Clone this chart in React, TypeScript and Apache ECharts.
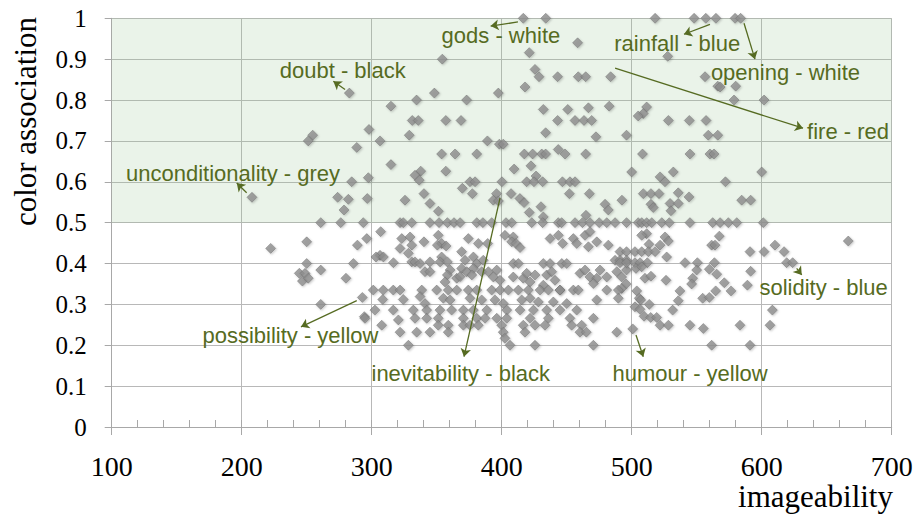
import React, { useEffect, useRef } from "react";
import * as echarts from "echarts";

// ---- data (imageability, color association) ----
const topRowX = [416.6, 433.9, 518, 548, 557, 564.8, 579.5, 583.8];

const upperPoints: [number, number][] = [
  [458.4, 0.94], [421.2, 0.916], [354.3, 0.9], [527.7, 0.907], [425.6, 0.875],
  [428.7, 0.857], [443, 0.857], [458.9, 0.857], [464.6, 0.857], [483.8, 0.857], [556.4, 0.857],
  [417.9, 0.832], [566.2, 0.834], [568, 0.832], [580, 0.834],
  [282.8, 0.817], [348.2, 0.817], [397.4, 0.817],
  [334.5, 0.8], [373, 0.8], [578.7, 0.8], [601.8, 0.8],
  [314.8, 0.785], [432, 0.777], [450.8, 0.777], [466.7, 0.781], [482.7, 0.785],
  [511.5, 0.783], [508.9, 0.767], [505, 0.761],
  [331.2, 0.75], [335.8, 0.75], [357, 0.75], [368.7, 0.75], [443, 0.75], [456.4, 0.75],
  [463.3, 0.75], [469.2, 0.75], [528.2, 0.75], [544.3, 0.75], [557.2, 0.75],
  [297.9, 0.728], [328.9, 0.714], [433.8, 0.72], [472.5, 0.71], [496, 0.714],
  [254.6, 0.714], [251.2, 0.7], [558.9, 0.714], [566.2, 0.714],
  [306.4, 0.7], [389, 0.7], [398.2, 0.692], [401.2, 0.692], [288.5, 0.684],
  [443.5, 0.679], [448.7, 0.668], [353.8, 0.668], [364.1, 0.668], [380.8, 0.668],
  [417.4, 0.668], [423.8, 0.668], [430.8, 0.668], [433.8, 0.668], [464.6, 0.668],
  [508.3, 0.668], [544.8, 0.668], [560.2, 0.668], [563.3, 0.668],
  [314.8, 0.642], [422.5, 0.639], [409.5, 0.631], [357, 0.626], [337.7, 0.626],
  [500, 0.624], [532, 0.624], [600, 0.624],
  [333.3, 0.616], [336.6, 0.604], [297.4, 0.61], [426.4, 0.614], [521.8, 0.612],
  [375.6, 0.6], [379.5, 0.6], [419.2, 0.6], [424.8, 0.6], [431.5, 0.6], [400.2, 0.6],
  [446.7, 0.6], [452.5, 0.6], [456.4, 0.6], [284.6, 0.6], [525.6, 0.6], [572.1, 0.6],
  [369.7, 0.584], [340.2, 0.571], [377.4, 0.571], [407.2, 0.571], [452, 0.571], [467.4, 0.571],
  [396, 0.571], [508.9, 0.571], [514.8, 0.571], [521, 0.571], [535.8, 0.573], [544.1, 0.563],
  [393.5, 0.555], [397.5, 0.553], [296.6, 0.559], [325.6, 0.555], [414, 0.559], [417.2, 0.549],
  [207.9, 0.562], [273.8, 0.562], [282, 0.557], [584.6, 0.555], [591.5, 0.555],
  [344.8, 0.547], [492.5, 0.555], [479.5, 0.545], [482, 0.531], [430.2, 0.539],
  [514.8, 0.545], [516.6, 0.537], [529.5, 0.547], [535.8, 0.547], [530.2, 0.529],
  [351.3, 0.528], [421.2, 0.525], [432, 0.514], [464.8, 0.518], [278.7, 0.531],
];

const halfRowX = [
  260.8, 276.2, 293.5, 321.8, 324.3, 330.8, 344.8, 351.8, 358.2, 363.3, 368, 380.8,
  385.5, 392.3, 403.3, 407.7, 423.1, 431.5, 443.5, 446.1, 456.4, 462.1, 467.9, 475,
  480.8, 487.2, 496, 505, 507.7, 511.5, 515.4, 523.1, 528.9, 544.8, 562.3, 568,
  574.3, 580.8, 601.2,
];

const lowerPoints: [number, number][] = [
  [306.9, 0.478], [296.2, 0.461], [323.1, 0.461], [329.5, 0.465], [330.8, 0.445], [321.8, 0.437],
  [340.2, 0.453], [351.2, 0.469], [353.8, 0.449], [350.5, 0.445], [357.2, 0.443],
  [374.3, 0.461], [382, 0.449], [389.2, 0.449], [402.5, 0.469], [408.9, 0.465], [407.7, 0.453],
  [411, 0.449], [414.1, 0.439], [437.2, 0.461], [443.6, 0.469], [446.9, 0.449], [455.1, 0.461],
  [457.7, 0.449], [464.1, 0.469], [467.9, 0.478], [473.1, 0.453], [482, 0.445], [466.7, 0.441],
  [222.3, 0.437], [250, 0.453], [289, 0.445], [666.6, 0.455],
  [567.4, 0.467], [525.6, 0.465], [528.2, 0.455], [521.8, 0.445], [513.3, 0.447], [511.5, 0.473],
  [507.7, 0.469], [561.5, 0.445], [564.1, 0.445], [610.2, 0.445],
  [591, 0.429], [601.8, 0.429], [617.2, 0.429], [491, 0.429], [496, 0.429], [502.5, 0.429],
  [507.7, 0.429], [512.8, 0.429], [518, 0.429], [526.9, 0.416],
  [306.4, 0.42], [303.3, 0.416], [309, 0.416], [316.7, 0.402], [250, 0.4], [285.9, 0.4],
  [328.2, 0.425], [330.8, 0.404], [333.3, 0.404], [337.2, 0.4], [341, 0.38], [344.8, 0.38],
  [344.8, 0.404], [353.8, 0.416], [352.6, 0.404], [358.2, 0.404], [360.3, 0.384], [358.2, 0.372],
  [356.4, 0.355], [369.2, 0.429], [371.8, 0.408], [369.2, 0.388], [365.4, 0.364], [368, 0.368],
  [373.1, 0.38], [378.2, 0.416], [380.8, 0.4], [385.8, 0.408], [384.6, 0.38], [378.2, 0.388],
  [377, 0.372], [389.7, 0.38], [396.2, 0.384], [393.6, 0.367], [398.7, 0.359],
  [408.9, 0.4], [412.8, 0.4], [408.9, 0.367], [416.6, 0.364], [419.2, 0.376], [421.8, 0.355],
  [425.6, 0.372], [432, 0.4], [437.2, 0.4], [446.2, 0.4], [450, 0.4], [434.6, 0.372],
  [438.5, 0.38], [432, 0.347], [444.8, 0.335], [441, 0.359],
  [460.2, 0.376], [464.1, 0.384], [467.9, 0.367], [473.1, 0.364], [475.6, 0.384], [480.8, 0.367],
  [470.5, 0.351], [487.2, 0.408], [491, 0.408], [496, 0.408], [488.5, 0.38], [492.3, 0.367],
  [496, 0.384],
  [491, 0.402], [496, 0.402], [502.5, 0.402], [506.4, 0.402], [512, 0.402], [541, 0.402],
  [550.5, 0.402], [563.6, 0.402], [619.2, 0.402], [623.8, 0.402],
  [550, 0.384], [559.7, 0.386], [565.4, 0.374], [503.3, 0.388], [507.7, 0.392], [591.5, 0.381],
  [260.8, 0.384], [244.3, 0.376], [248.7, 0.376], [246.7, 0.357], [251.2, 0.364], [280.2, 0.364],
  [510.2, 0.364], [514.8, 0.369], [526.4, 0.359], [546.9, 0.364], [546.1, 0.35],
  [571.2, 0.353], [576.4, 0.333], [589, 0.347], [495.6, 0.35], [492.3, 0.339], [503.9, 0.333],
  [537.1, 0.333], [564.6, 0.333], [554.6, 0.315], [559.7, 0.317],
  [505.8, 0.315], [506.9, 0.311], [535.8, 0.309], [513.5, 0.3],
  [502.5, 0.294], [506.4, 0.288], [531.5, 0.286], [608.2, 0.286],
  [509.5, 0.271], [514.6, 0.268], [519.2, 0.268], [521.8, 0.249], [528.2, 0.249],
  [544.8, 0.249], [555.1, 0.241], [583.3, 0.249], [606.4, 0.249], [500.8, 0.24],
  [561.5, 0.2], [591, 0.2], [292.8, 0.317], [260.8, 0.3], [294.3, 0.27],
  [301.2, 0.335], [308.9, 0.335], [316.6, 0.335], [321.8, 0.335], [338.5, 0.335], [350, 0.335],
  [358.9, 0.335], [365.4, 0.335], [374.3, 0.335], [380.8, 0.335], [392.3, 0.335], [398.7, 0.335],
  [405.1, 0.335], [412.8, 0.335], [420.5, 0.335], [429.5, 0.335], [435.9, 0.335], [444.8, 0.335],
  [455.1, 0.335], [458.9, 0.335], [480.8, 0.335], [489.7, 0.335],
  [308.5, 0.312], [324.3, 0.312], [337.2, 0.319], [341, 0.302], [355.1, 0.315], [360.3, 0.311],
  [375.6, 0.315], [384.6, 0.311], [394.8, 0.311], [401.2, 0.302], [415.4, 0.311], [421.8, 0.315],
  [428.2, 0.306], [439.7, 0.306], [450, 0.302], [473.1, 0.311], [489.7, 0.315],
  [302.5, 0.286], [316.6, 0.286], [332, 0.286], [342.3, 0.286], [352.5, 0.286], [361.5, 0.286],
  [370.5, 0.286], [378.2, 0.286], [388.5, 0.286], [403.9, 0.286], [414.1, 0.286], [424.4, 0.286],
  [434.6, 0.286], [444.8, 0.286], [457.7, 0.286],
  [294.8, 0.266], [320.5, 0.262], [333.3, 0.266], [342.3, 0.266], [351.2, 0.266], [370.5, 0.266],
  [380.8, 0.266], [387.2, 0.266], [396.2, 0.266], [403.9, 0.266], [421.8, 0.266], [435.9, 0.266],
  [452.5, 0.266], [470.5, 0.266],
  [307.7, 0.249], [351.2, 0.249], [358.9, 0.249], [370.5, 0.249], [375.6, 0.249], [382, 0.249],
  [400, 0.249], [416.6, 0.249], [425.6, 0.249], [433.3, 0.249], [453.8, 0.249], [461.5, 0.249],
  [321.8, 0.232], [334.6, 0.232], [344.8, 0.232], [358.9, 0.232], [401.2, 0.232], [417.9, 0.232],
  [460.2, 0.232], [465.1, 0.232], [488.5, 0.232],
  [328.2, 0.2], [402.5, 0.217], [406.4, 0.2], [425.6, 0.2], [470.5, 0.2],
];

// annotations: label centre + arrow (from point to label), in data coordinates
const annotations = [
  { text: "gods - white", tx: 399.4, ty: 0.958, x1: 412.5, y1: 0.991, x2: 391.5, y2: 0.981 },
  { text: "rainfall - blue", tx: 535.0, ty: 0.939, x1: 560.2, y1: 0.985, x2: 540.2, y2: 0.961 },
  { text: "opening - white", tx: 618.3, ty: 0.868, x1: 586.4, y1: 0.988, x2: 594.8, y2: 0.9 },
  { text: "fire - red", tx: 666.4, ty: 0.724, x1: 487.2, y1: 0.878, x2: 631.8, y2: 0.731 },
  { text: "doubt - black", tx: 277.7, ty: 0.873, x1: 279.5, y1: 0.826, x2: 270.5, y2: 0.846 },
  { text: "unconditionality - grey", tx: 193.3, ty: 0.621, x1: 203.8, y1: 0.573, x2: 196.2, y2: 0.597 },
  { text: "possibility - yellow", tx: 237.5, ty: 0.225, x1: 288.5, y1: 0.309, x2: 245.6, y2: 0.245 },
  { text: "inevitability - black", tx: 368.5, ty: 0.132, x1: 398.7, y1: 0.56, x2: 371, y2: 0.172 },
  { text: "humour - yellow", tx: 544.9, ty: 0.132, x1: 503.3, y1: 0.225, x2: 508.9, y2: 0.172 },
  { text: "solidity - blue", tx: 647.6, ty: 0.342, x1: 626.9, y1: 0.388, x2: 630.8, y2: 0.372 },
];

const OLIVE = "#566b22";
const GRID = "#b8b8b8";

export default function App() {
  const ref = useRef<HTMLDivElement>(null);
  useEffect(() => {
    if (!ref.current) return;
    const chart = echarts.init(ref.current, undefined, { renderer: "svg" });
    const points: [number, number][] = [
      ...topRowX.map((x) => [x, 1] as [number, number]),
      ...upperPoints,
      ...halfRowX.map((x) => [x, 0.5] as [number, number]),
      ...lowerPoints,
    ];
    chart.setOption({
      animation: false,
      grid: { left: 111.7, right: 25.3, top: 18.3, bottom: 89, containLabel: false, outerBoundsMode: "none" },
      xAxis: [
        {
          type: "value", min: 100, max: 700, interval: 100,
          axisLine: { show: true, onZero: false, lineStyle: { color: "#a8a8a8", width: 1 } },
          axisTick: { show: true, length: 8, inside: false, lineStyle: { color: "#a8a8a8" } },
          axisLabel: { fontFamily: "Liberation Serif", fontSize: 28, color: "#000", margin: 25 },
          splitLine: { show: true, lineStyle: { color: GRID, width: 1 } },
        },
        {
          type: "value", min: 100, max: 700, interval: 20, position: "bottom",
          axisLine: { show: false },
          axisTick: { show: true, length: 7, inside: true, lineStyle: { color: "#a8a8a8" } },
          axisLabel: { show: false },
          splitLine: { show: false },
        },
      ],
      yAxis: {
        type: "value", min: 0, max: 1, interval: 0.1,
        axisLine: { show: true, lineStyle: { color: "#a8a8a8", width: 1 } },
        axisTick: { show: true, length: 7, inside: false, lineStyle: { color: "#a8a8a8" } },
        axisLabel: {
          fontFamily: "Liberation Serif", fontSize: 25, color: "#000", margin: 25,
          formatter: (v: number) => String(Math.round(v * 10) / 10),
        },
        splitLine: { show: true, lineStyle: { color: GRID, width: 1 } },
      },
      series: [
        {
          type: "scatter",
          xAxisIndex: 0,
          symbol: "diamond",
          symbolSize: 10,
          data: points,
          itemStyle: {
            color: "#8d8d8d", borderColor: "#6e6e6e", borderWidth: 0.6,
            shadowColor: "rgba(0,0,0,0.25)", shadowBlur: 2, shadowOffsetX: 1, shadowOffsetY: 1,
          },
          z: 3,
          markArea: {
            silent: true,
            itemStyle: { color: "rgba(150,195,145,0.2)" },
            data: [[{ coord: [100, 0.5] }, { coord: [700, 1] }]],
          },
          markLine: {
            silent: true,
            symbol: ["none", "arrow"],
            symbolSize: 8,
            label: { show: false },
            lineStyle: { color: OLIVE, width: 1.3, type: "solid" },
            emphasis: { disabled: true },
            data: annotations.map((a) => [
              { coord: [a.x1, a.y1] },
              { coord: [a.x2, a.y2] },
            ]),
          },
          markPoint: {
            silent: true,
            symbol: "rect",
            symbolSize: 1,
            itemStyle: { color: "rgba(0,0,0,0)" },
            label: {
              show: true, position: "inside",
              fontFamily: "Liberation Sans", fontSize: 22, color: OLIVE,
            },
            data: annotations.map((a) => ({
              coord: [a.tx, a.ty],
              value: a.text,
              label: { formatter: a.text },
            })),
          },
        },
      ],
      graphic: [
        {
          type: "text", x: 25, y: 121.5, rotation: Math.PI / 2,
          style: {
            text: "color association", fontFamily: "Liberation Serif", fontSize: 31,
            fill: "#000", textAlign: "center", textVerticalAlign: "middle",
          },
        },
        {
          type: "text", x: 893, y: 496,
          style: {
            text: "imageability", fontFamily: "Liberation Serif", fontSize: 31,
            fill: "#000", textAlign: "right", textVerticalAlign: "middle",
          },
        },
      ],
    });
    return () => chart.dispose();
  }, []);
  return (
    <div
      ref={ref}
      style={{ position: "absolute", left: 0, top: 0, width: 917, height: 516, background: "#fff" }}
    />
  );
}
